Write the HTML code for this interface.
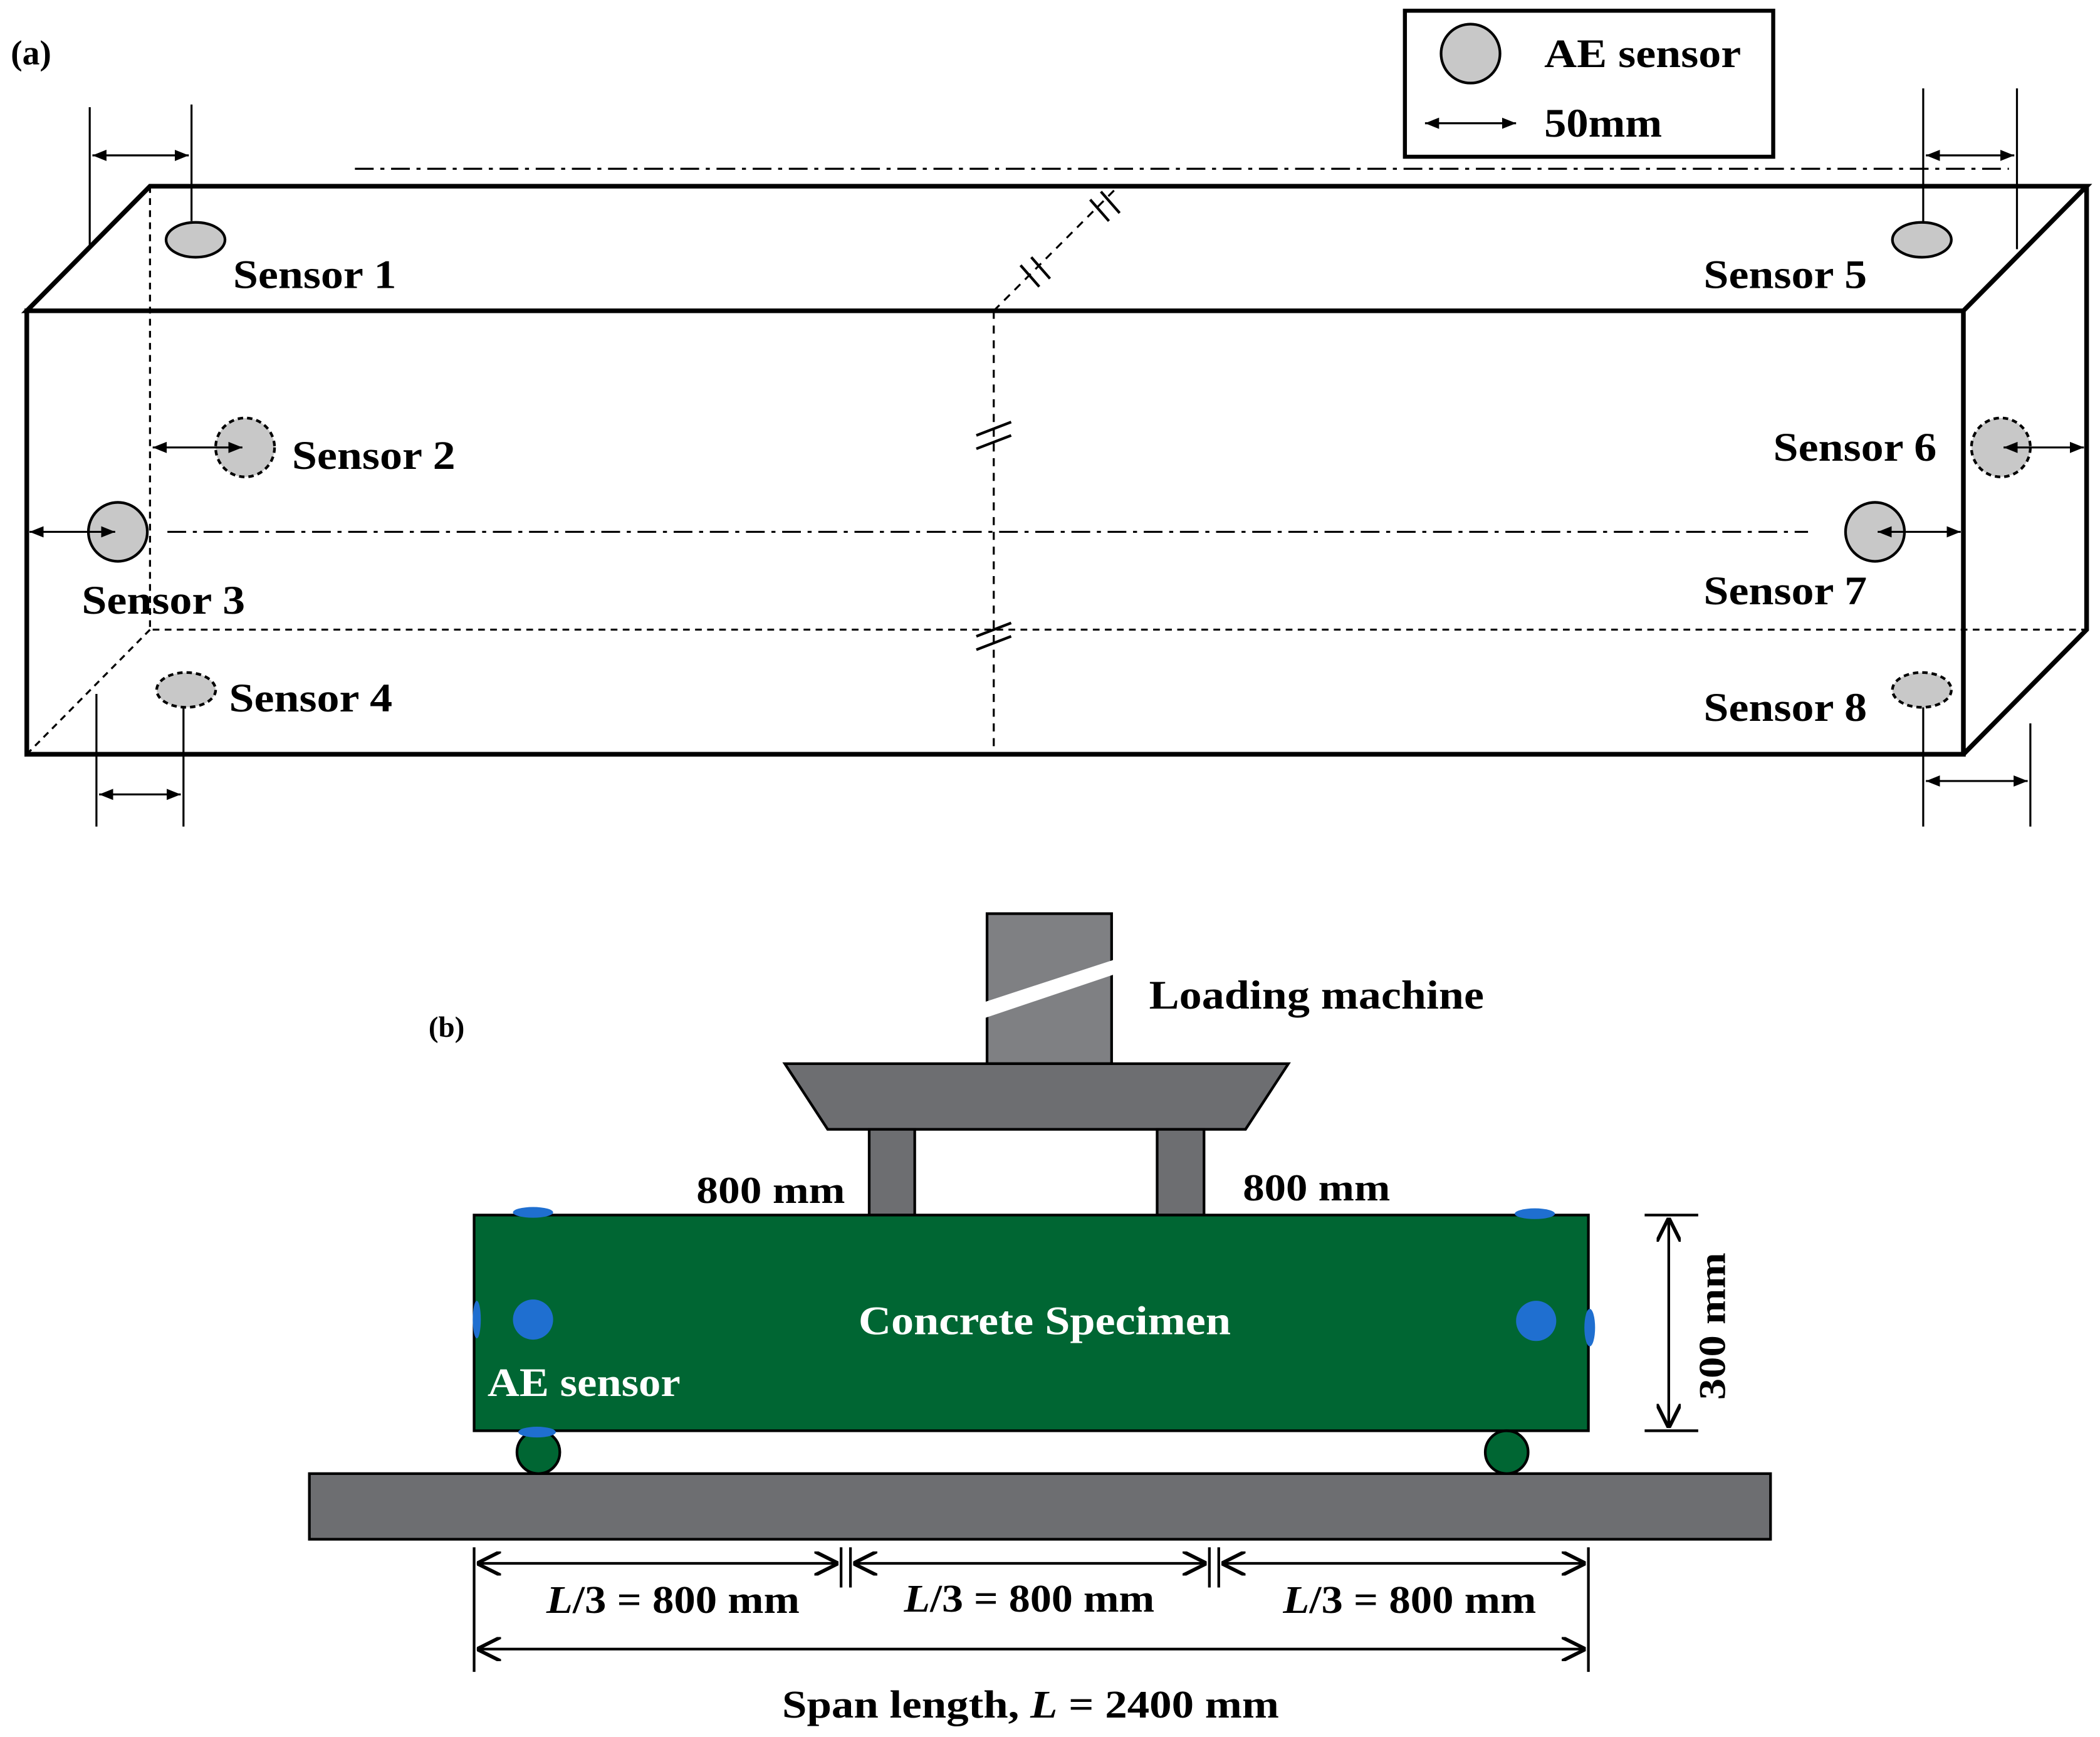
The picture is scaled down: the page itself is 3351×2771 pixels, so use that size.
<!DOCTYPE html>
<html><head><meta charset="utf-8"><style>
html,body{margin:0;padding:0;background:#fff}
svg{display:block}
text{font-family:"Liberation Serif",serif;font-weight:bold;fill:#000}
</style></head><body>
<svg width="3351" height="2771" viewBox="0 0 1568 1296.6" xmlns="http://www.w3.org/2000/svg">
<defs>
<marker id="a" viewBox="0 0 10 10" refX="10" refY="5" markerWidth="7" markerHeight="7" orient="auto-start-reverse"><path d="M0,1 L10,5 L0,9 z" fill="#000"/></marker>
<marker id="b" viewBox="0 0 10 10" refX="10" refY="5" markerWidth="9" markerHeight="9" orient="auto-start-reverse"><path d="M0,0 L10,5 L0,10" fill="none" stroke="#000" stroke-width="1.5"/></marker>
</defs>
<rect width="1568" height="1297" fill="#fff"/>
<text x="8" y="48" font-size="26">(a)</text>
<rect x="1049" y="8" width="275" height="109" fill="#fff" stroke="#000" stroke-width="3"/>
<circle cx="1098" cy="40" r="22" fill="#c8c8c8" stroke="#000" stroke-width="2"/>
<text x="1153" y="50" font-size="30" textLength="147" lengthAdjust="spacingAndGlyphs">AE sensor</text>
<line x1="1064" y1="92" x2="1132" y2="92" stroke="#000" stroke-width="1.5" marker-start="url(#a)" marker-end="url(#a)"/>
<text x="1153" y="102" font-size="30" textLength="88" lengthAdjust="spacingAndGlyphs">50mm</text>
<g fill="none" stroke="#000">
<line x1="265" y1="126" x2="1500" y2="126" stroke-width="1.5" stroke-dasharray="14,5,3,5"/>
<line x1="125" y1="397" x2="1350" y2="397" stroke-width="1.5" stroke-dasharray="14,5,3,5"/>
<path d="M112,139 V470 H1558 M112,470 L20,563" stroke-width="1.5" stroke-dasharray="5,4"/>
<path d="M742,232 V563 M742,232 L835,139" stroke-width="1.5" stroke-dasharray="6,5"/>
<path d="M20,232 L112,139 L1558,139 L1466,232 Z M20,232 H1466 V563 H20 Z M1466,563 L1558,470 V139" stroke-width="3.5"/>
<path d="M762,198 L776,214 M770,192 L784,208 M814,149 L828,165 M822,143 L836,159 M729,325 L755,315 M729,335 L755,325 M729,475 L755,465 M729,485 L755,475" stroke-width="2"/>
</g>
<g stroke="#000" stroke-width="2" fill="#c8c8c8">
<ellipse cx="146" cy="179" rx="22" ry="13"/>
<ellipse cx="1435" cy="179" rx="22" ry="13"/>
<circle cx="183" cy="334" r="22" stroke-dasharray="4,3"/>
<circle cx="88" cy="397" r="22"/>
<circle cx="1400" cy="397" r="22"/>
<circle cx="1494" cy="334" r="22" stroke-dasharray="4,3"/>
<ellipse cx="139" cy="515" rx="22" ry="13" stroke-dasharray="4,3"/>
<ellipse cx="1435" cy="515" rx="22" ry="13" stroke-dasharray="4,3"/>
</g>
<g font-size="30">
<text x="174" y="215" textLength="122" lengthAdjust="spacingAndGlyphs">Sensor 1</text>
<text x="218" y="350" textLength="122" lengthAdjust="spacingAndGlyphs">Sensor 2</text>
<text x="61" y="458" textLength="122" lengthAdjust="spacingAndGlyphs">Sensor 3</text>
<text x="171" y="531" textLength="122" lengthAdjust="spacingAndGlyphs">Sensor 4</text>
<text x="1272" y="215" textLength="122" lengthAdjust="spacingAndGlyphs">Sensor 5</text>
<text x="1324" y="344" textLength="122" lengthAdjust="spacingAndGlyphs">Sensor 6</text>
<text x="1272" y="451" textLength="122" lengthAdjust="spacingAndGlyphs">Sensor 7</text>
<text x="1272" y="538" textLength="122" lengthAdjust="spacingAndGlyphs">Sensor 8</text>
</g>
<g stroke="#000" stroke-width="1.5" fill="none">
<line x1="67" y1="80" x2="67" y2="183"/><line x1="143" y1="78" x2="143" y2="165"/>
<line x1="69" y1="116" x2="141" y2="116" marker-start="url(#a)" marker-end="url(#a)"/>
<line x1="1436" y1="66" x2="1436" y2="166"/><line x1="1506" y1="66" x2="1506" y2="186"/>
<line x1="1438" y1="116" x2="1504" y2="116" marker-start="url(#a)" marker-end="url(#a)"/>
<line x1="114" y1="334" x2="181" y2="334" marker-start="url(#a)" marker-end="url(#a)"/>
<line x1="22" y1="397" x2="86" y2="397" marker-start="url(#a)" marker-end="url(#a)"/>
<line x1="1402" y1="397" x2="1464" y2="397" marker-start="url(#a)" marker-end="url(#a)"/>
<line x1="1496" y1="334" x2="1556" y2="334" marker-start="url(#a)" marker-end="url(#a)"/>
<line x1="72" y1="518" x2="72" y2="617"/><line x1="137" y1="528" x2="137" y2="617"/>
<line x1="74" y1="593" x2="135" y2="593" marker-start="url(#a)" marker-end="url(#a)"/>
<line x1="1436" y1="528" x2="1436" y2="617"/><line x1="1516" y1="540" x2="1516" y2="617"/>
<line x1="1438" y1="583" x2="1514" y2="583" marker-start="url(#a)" marker-end="url(#a)"/>
</g>
<text x="320" y="774" font-size="22">(b)</text>
<g stroke="#000" stroke-width="2" fill="#6d6e71">
<rect x="737" y="682" width="93" height="112" fill="#7f8083"/>
<path d="M586,794 H962 L930,843 H618 Z"/>
<rect x="649" y="843" width="34" height="64"/>
<rect x="864" y="843" width="35" height="64"/>
<rect x="231" y="1100" width="1091" height="49"/>
<rect x="354" y="907" width="832" height="161" fill="#006633"/>
<circle cx="402" cy="1084" r="16" fill="#006633"/>
<circle cx="1125" cy="1084" r="16" fill="#006633"/>
</g>
<path d="M735,748 L833,716 V727 L735,760 Z" fill="#fff"/>
<g fill="#1f6fd0">
<circle cx="398" cy="985" r="15"/><circle cx="1147" cy="986" r="15"/>
<ellipse cx="398" cy="905" rx="15" ry="4"/><ellipse cx="1146" cy="906" rx="15" ry="4"/>
<ellipse cx="356" cy="985" rx="3" ry="14"/><ellipse cx="1187" cy="991" rx="4" ry="14"/>
<ellipse cx="401" cy="1069" rx="14" ry="4"/>
</g>
<text x="858" y="753" font-size="30" textLength="250" lengthAdjust="spacingAndGlyphs">Loading machine</text>
<text x="520" y="898" font-size="28" textLength="111" lengthAdjust="spacingAndGlyphs">800 mm</text>
<text x="928" y="896" font-size="28" textLength="110" lengthAdjust="spacingAndGlyphs">800 mm</text>
<text x="641" y="996" font-size="30" style="fill:#fff" textLength="278" lengthAdjust="spacingAndGlyphs">Concrete Specimen</text>
<text x="364" y="1042" font-size="30" style="fill:#fff" textLength="144" lengthAdjust="spacingAndGlyphs">AE sensor</text>
<text transform="translate(1288,1045) rotate(-90)" x="0" y="0" font-size="28" textLength="110" lengthAdjust="spacingAndGlyphs">300 mm</text>
<g stroke="#000" stroke-width="2" fill="none">
<line x1="1228" y1="907" x2="1268" y2="907"/><line x1="1228" y1="1068" x2="1268" y2="1068"/>
<line x1="1246" y1="909" x2="1246" y2="1066" marker-start="url(#b)" marker-end="url(#b)"/>
<line x1="354" y1="1155" x2="354" y2="1248"/><line x1="1186" y1="1155" x2="1186" y2="1248"/>
<line x1="628" y1="1155" x2="628" y2="1185"/><line x1="635" y1="1155" x2="635" y2="1185"/>
<line x1="903" y1="1155" x2="903" y2="1185"/><line x1="910" y1="1155" x2="910" y2="1185"/>
<line x1="356" y1="1167" x2="626" y2="1167" marker-start="url(#b)" marker-end="url(#b)"/>
<line x1="637" y1="1167" x2="901" y2="1167" marker-start="url(#b)" marker-end="url(#b)"/>
<line x1="912" y1="1167" x2="1184" y2="1167" marker-start="url(#b)" marker-end="url(#b)"/>
<line x1="356" y1="1231" x2="1184" y2="1231" marker-start="url(#b)" marker-end="url(#b)"/>
</g>
<g font-size="29">
<text x="408" y="1204" textLength="189" lengthAdjust="spacingAndGlyphs"><tspan font-style="italic">L</tspan>/3 = 800 mm</text>
<text x="675" y="1203" textLength="187" lengthAdjust="spacingAndGlyphs"><tspan font-style="italic">L</tspan>/3 = 800 mm</text>
<text x="958" y="1204" textLength="189" lengthAdjust="spacingAndGlyphs"><tspan font-style="italic">L</tspan>/3 = 800 mm</text>
<text x="584" y="1282" textLength="371" lengthAdjust="spacingAndGlyphs">Span length, <tspan font-style="italic">L</tspan> = 2400 mm</text>
</g>
</svg>
</body></html>
